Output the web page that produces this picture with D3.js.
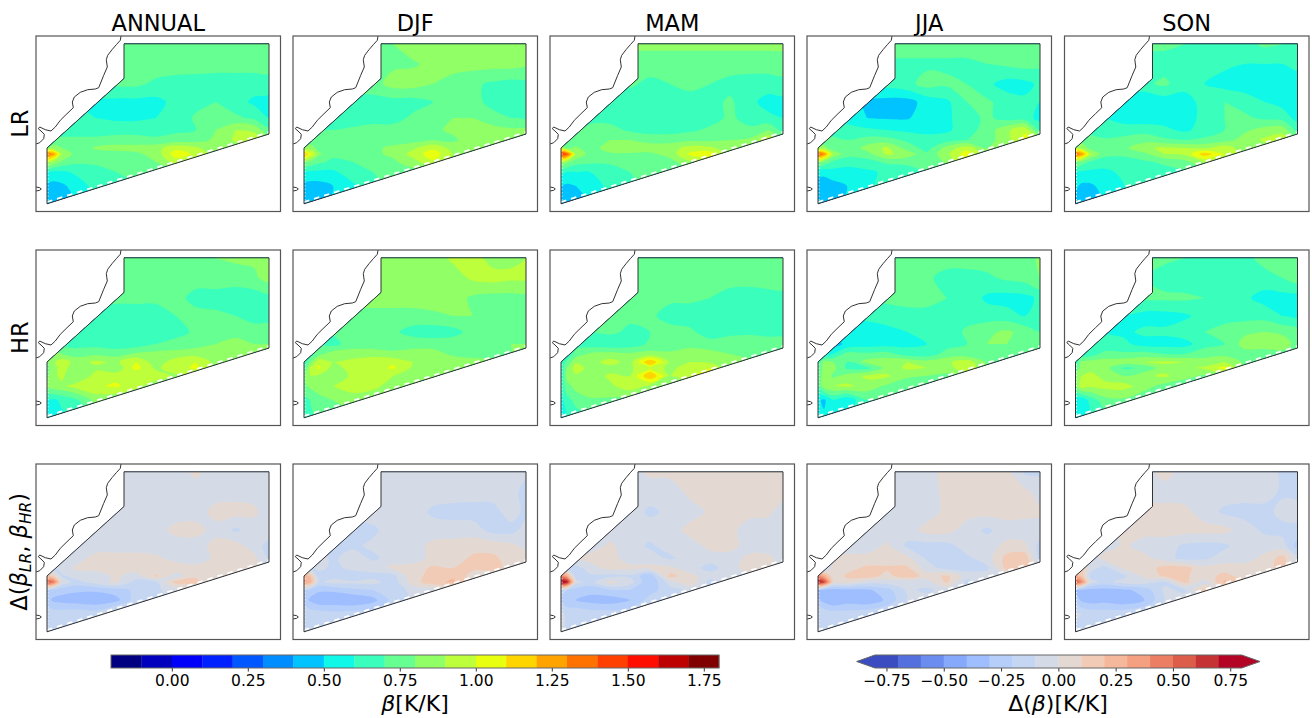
<!DOCTYPE html>
<html>
<head>
<meta charset="utf-8">
<script src="https://cdn.jsdelivr.net/npm/d3@7"></script>
<style>
  body { margin: 0; background: #fff; }
  text { font-family: "DejaVu Sans", sans-serif; fill: #000; }
</style>
</head>
<body>
<script>
// grid nodes in map units, denser round the hot spot near the west edge
var colNodes = [11, 17, 26, 40, 60, 80, 100, 120, 140, 160, 180, 200, 218, 233];
var rowNodes = [8, 28, 48, 66, 82, 94, 104, 112, 118, 126, 136, 150, 168];

var seasons = ["ANNUAL", "DJF", "MAM", "JJA", "SON"];
var rowNames = ["LR", "HR", "delta"];

// beta and delta beta, in hundredths of K/K
var lrAnnual = [
[75,75,75,75,75,75,75,75,75,75,75,75,75,75],
[75,75,75,75,75,75,75,75,75,75,74,74,74,74],
[72,72,72,72,72,72,72,68,66,65,65,65,65,66],
[62,62,62,60,58,57,57,57,63,68,70,64,58,56],
[64,64,64,64,60,58,58,60,66,71,72,72,68,60],
[66,66,66,66,66,66,66,66,68,70,80,90,88,72],
[70,74,72,72,72,74,74,72,74,76,82,92,96,84],
[78,84,80,72,82,84,84,86,97,92,82,84,90,84],
[135,128,90,76,74,76,78,84,106,98,84,84,84,84],
[92,88,78,72,72,74,76,80,94,86,80,80,80,80],
[60,58,58,62,66,70,72,74,74,74,74,74,74,74],
[47,46,48,54,64,68,70,72,72,72,72,72,72,72],
[42,42,44,50,60,66,70,72,72,72,72,72,72,72]];
var lrDjf = [
[78,78,78,78,78,78,80,84,85,85,85,85,85,85],
[76,76,76,76,76,76,78,79,82,84,84,84,84,82],
[74,74,74,74,74,76,84,84,80,76,72,68,66,66],
[66,66,66,66,66,66,66,66,70,76,74,66,64,64],
[66,66,66,64,64,66,66,72,76,80,80,74,70,68],
[68,68,70,70,72,74,74,76,78,82,86,84,82,82],
[72,74,72,70,72,74,76,76,80,78,86,88,90,90],
[80,85,76,72,76,78,82,88,98,86,82,88,94,94],
[120,105,82,72,74,78,82,94,106,90,84,84,84,84],
[82,78,72,68,70,74,78,86,98,86,80,80,80,80],
[58,58,58,58,66,70,72,76,78,78,78,78,78,78],
[46,46,46,50,58,68,72,74,74,74,74,74,74,74],
[42,42,44,52,60,68,72,74,74,74,74,74,74,74]];
var lrMam = [
[82,82,82,82,82,82,82,82,82,82,82,82,82,82],
[76,76,76,76,76,76,76,76,76,76,76,76,76,76],
[72,72,72,72,72,72,67,70,74,70,66,64,64,66],
[66,66,66,66,64,63,63,63,64,66,72,62,57,57],
[68,68,68,68,66,64,64,64,64,66,72,66,62,60],
[70,70,70,72,74,68,66,66,68,72,74,72,80,66],
[74,76,72,72,80,80,76,76,78,78,80,82,98,84],
[90,78,82,74,86,90,86,86,94,92,84,84,84,84],
[148,142,90,76,78,78,78,84,102,106,84,84,84,84],
[88,82,74,72,72,74,74,76,88,92,80,80,80,80],
[62,60,60,60,64,70,72,74,74,74,74,74,74,74],
[50,48,50,56,62,68,72,72,72,72,72,72,72,72],
[44,44,46,50,60,66,70,72,72,72,72,72,72,72]];
var lrJja = [
[75,75,75,75,75,75,75,75,75,75,75,74,73,72],
[68,68,68,68,68,68,68,68,68,68,70,72,74,72],
[64,64,64,64,64,64,67,74,72,70,62,56,57,62],
[56,56,56,56,48,46,46,54,58,70,72,65,62,60],
[60,60,60,58,50,49,49,55,58,66,72,66,64,57],
[66,66,66,62,62,60,58,57,58,66,74,88,98,66],
[72,74,72,70,74,74,68,64,66,70,76,86,104,90],
[82,84,74,72,84,92,76,66,84,96,80,80,80,80],
[140,130,88,74,76,92,86,72,88,106,80,80,80,80],
[84,78,68,64,66,72,72,70,82,98,76,76,76,76],
[52,52,56,56,58,62,66,70,70,70,70,70,70,70],
[46,46,46,50,58,64,68,68,68,68,68,68,68,68],
[44,44,46,52,60,66,68,68,68,68,68,68,68,68]];
var lrSon = [
[72,72,72,72,72,72,72,70,68,66,66,72,70,68],
[66,66,66,66,66,66,66,66,64,62,60,60,60,62],
[68,68,68,68,68,68,72,64,60,56,54,54,54,56],
[58,58,58,56,52,50,54,55,64,70,66,60,56,54],
[64,64,64,60,56,54,56,57,62,70,72,68,66,56],
[66,66,66,60,64,66,62,58,64,70,78,84,86,66],
[72,76,74,72,74,76,72,70,72,76,84,92,96,80],
[88,88,76,72,78,88,92,90,88,96,84,84,84,84],
[135,128,92,74,72,78,90,92,116,100,84,84,84,84],
[82,76,68,64,66,68,72,76,90,88,80,80,80,80],
[60,58,58,58,62,64,66,68,70,70,70,70,70,70],
[52,48,48,54,60,66,68,68,68,68,68,68,68,68],
[44,44,44,50,60,66,68,68,68,68,68,68,68,68]];

var hrAnnual = [
[75,75,75,75,75,75,75,75,75,75,80,82,82,84],
[75,75,75,75,75,75,75,75,75,75,75,75,78,84],
[72,72,72,72,72,72,72,72,74,66,66,64,64,66],
[72,72,72,72,68,66,66,66,70,74,72,70,65,65],
[66,66,66,66,66,65,65,66,66,72,76,76,76,76],
[66,66,66,66,66,64,64,70,74,76,80,84,80,80],
[72,84,80,76,78,76,82,84,84,86,86,84,84,84],
[78,88,96,86,92,88,100,84,96,100,86,86,86,86],
[76,86,94,84,88,82,104,88,96,102,86,86,86,86],
[78,88,92,80,94,96,90,96,88,84,84,84,84,84],
[82,86,88,94,98,102,94,82,80,80,80,80,80,80],
[60,58,62,68,84,80,76,76,76,76,76,76,76,76],
[56,56,58,62,72,72,72,72,72,72,72,72,72,72]];
var hrDjf = [
[85,85,85,85,85,85,85,85,85,92,94,86,88,90],
[85,85,85,85,85,85,85,85,85,85,92,94,92,92],
[85,85,85,85,85,85,85,85,85,85,78,76,76,76],
[76,76,76,76,76,76,76,76,78,80,80,74,74,74],
[72,72,72,72,74,74,72,66,64,66,74,74,74,74],
[72,72,70,66,76,76,76,76,76,76,76,78,80,80],
[70,64,76,86,84,84,82,84,84,78,78,78,80,84],
[64,78,98,90,94,100,98,90,86,86,82,82,82,82],
[66,92,102,86,94,94,102,88,86,90,82,82,82,82],
[78,90,88,84,92,96,90,86,84,84,82,82,82,82],
[78,82,86,90,98,94,84,80,80,80,80,80,80,80],
[66,70,76,80,82,80,78,78,78,78,78,78,78,78],
[66,68,72,76,78,78,78,78,78,78,78,78,78,78]];
var hrMam = [
[76,76,76,76,76,76,76,76,76,76,72,76,76,80],
[75,75,75,75,75,75,75,75,74,74,74,74,76,78],
[72,72,72,72,72,72,74,72,72,70,66,65,65,65],
[72,72,72,72,74,72,72,66,65,65,65,65,65,65],
[70,70,70,70,72,68,70,74,72,65,67,68,66,66],
[66,64,66,64,62,64,72,74,76,74,76,76,76,76],
[66,62,74,82,84,82,84,82,86,84,80,78,78,78],
[64,72,88,86,94,86,120,88,90,88,82,82,82,82],
[60,80,96,86,86,88,100,86,98,100,82,82,82,82],
[58,84,88,84,92,90,120,90,100,106,84,84,84,84],
[62,76,84,90,88,96,88,84,82,82,82,82,82,82],
[56,66,74,78,78,76,76,76,76,76,76,76,76,76],
[56,60,64,70,74,74,74,74,74,74,74,74,74,74]];
var hrJja = [
[75,75,75,75,75,75,75,75,75,75,75,74,75,82],
[75,75,75,75,75,75,75,72,66,66,68,72,74,80],
[72,72,72,72,72,72,74,74,70,66,58,56,57,62],
[62,62,62,62,62,66,66,66,68,66,65,64,60,60],
[58,58,58,56,56,56,60,60,64,72,78,82,76,70],
[60,54,46,52,55,56,58,60,66,70,80,80,78,76],
[56,50,60,74,72,74,64,64,74,72,76,76,76,76],
[64,84,80,70,84,86,90,84,88,96,78,78,78,78],
[70,84,84,68,66,84,92,90,84,100,78,78,78,78],
[70,88,78,84,92,92,82,80,78,78,78,78,78,78],
[70,86,90,92,86,78,72,70,70,70,70,70,70,70],
[52,48,60,52,70,70,70,70,70,70,70,70,70,70],
[50,52,54,60,64,66,66,66,66,66,66,66,66,66]];
var hrSon = [
[70,70,70,70,70,70,72,70,68,62,66,74,78,80],
[72,72,72,72,72,70,66,64,64,64,64,66,70,76],
[72,72,72,72,72,72,72,72,70,66,62,56,56,54],
[60,60,60,60,60,56,56,58,64,66,66,66,60,56],
[60,60,60,60,58,62,62,66,70,74,78,80,78,76],
[66,60,60,60,62,56,56,56,66,70,84,84,86,76],
[66,60,64,74,72,74,70,70,76,76,76,76,76,76],
[64,82,84,84,86,90,92,90,84,90,78,78,78,78],
[72,84,86,84,68,72,86,88,92,104,78,78,78,78],
[84,90,94,86,80,88,92,84,78,78,78,78,78,78],
[80,96,92,94,94,84,76,72,72,72,72,72,72,72],
[54,52,64,76,78,72,70,70,70,70,70,70,70,70],
[56,58,60,64,68,68,68,68,68,68,68,68,68,68]];

var dAnnual = [
[-5,-5,-5,-5,-5,-5,-5,-5,-5,2,-5,-5,-5,-5],
[-4,-4,-4,-4,-4,-4,-4,-4,-4,-4,-4,-4,-4,-4],
[-5,-5,-5,-5,-5,-5,-5,-5,-5,-4,3,4,2,-5],
[-5,-5,-5,-5,-5,-5,-5,-4,3,3,-3,-12,-5,-5],
[-5,-5,-5,-5,-5,-5,-5,-5,-5,-4,3,4,-5,-14],
[-5,-5,-5,-5,4,4,4,2,-4,-5,2,4,3,-12],
[-12,-14,-5,2,4,6,5,3,6,3,2,6,12,-8],
[14,12,-12,-5,-5,2,-5,12,-5,8,3,3,3,3],
[55,50,-2,-14,-5,2,-14,-12,14,14,-5,-5,-5,-5],
[-20,-24,-26,-28,-28,-24,-18,-12,-5,-8,-5,-5,-5,-5],
[-26,-32,-34,-36,-38,-34,-14,-12,-8,-8,-8,-8,-8,-8],
[-14,-14,-14,-12,-14,2,-8,-8,-8,-8,-8,-8,-8,-8],
[-12,-12,-12,-12,-10,-8,-8,-8,-8,-8,-8,-8,-8,-8]];
var dDjf = [
[-5,-5,-5,-5,-5,-5,-5,-5,-5,-5,-5,-5,-6,-8],
[-5,-5,-5,-5,-5,-5,-5,-5,-5,-5,-5,-5,-6,-14],
[-5,-5,-5,-5,-5,-5,-5,-5,-12,-14,-15,-14,-5,-13],
[-5,-5,-5,-5,-14,-12,-5,-5,-5,-5,-5,-14,-14,-6],
[-12,-12,-12,-12,-12,-8,-10,-5,3,4,6,6,3,-3],
[-6,-6,-6,-12,-5,-12,-6,-5,3,4,12,12,6,4],
[-5,-14,-5,-14,-6,-5,3,4,12,10,12,12,8,4],
[26,20,-18,-14,-20,-14,-14,8,12,18,6,6,6,6],
[32,28,-12,-6,-8,-6,-16,6,16,22,6,6,6,6],
[-18,-24,-28,-28,-22,-20,-14,-8,-5,-5,-5,-5,-5,-5],
[-24,-32,-38,-38,-40,-34,-16,-8,-6,-6,-6,-6,-6,-6],
[-14,-14,-14,-16,-14,-12,-8,-6,-6,-6,-6,-6,-6,-6],
[-14,-14,-14,-14,-12,-10,-8,-6,-6,-6,-6,-6,-6,-6]];
var dMam = [
[-5,-5,-5,-5,-5,-5,2,3,3,3,3,3,3,3],
[-5,-5,-5,-5,-5,-5,-5,-6,3,5,5,5,5,4],
[-5,-5,-5,-5,-5,-5,-12,-8,-5,2,4,3,2,-5],
[-5,-5,-5,-5,-5,-5,-5,-5,4,5,3,-5,-5,-5],
[-5,-5,-5,-5,2,-5,-12,-5,-5,3,4,-5,-6,-5],
[-5,-12,2,4,4,-5,-5,-12,-5,-5,-5,3,3,-5],
[-5,-16,-14,-5,4,3,3,2,-5,-14,-5,6,5,-5],
[40,30,-16,-12,-14,-12,-28,14,3,-5,-5,-5,-5,-5],
[78,72,-6,-14,4,-5,-30,-5,8,-14,-5,-5,-5,-5],
[-18,-20,-24,-26,-20,-20,-24,-14,-8,-8,-8,-8,-8,-8],
[-22,-26,-30,-34,-36,-30,-16,-8,-8,-8,-8,-8,-8,-8],
[-5,-14,-12,-14,-14,-12,-8,-8,-8,-8,-8,-8,-8,-8],
[-10,-10,-10,-10,-10,-8,-8,-8,-8,-8,-8,-8,-8,-8]];
var dJja = [
[-5,-5,-5,-5,-5,-5,-5,-5,4,3,3,3,-12,-12],
[-5,-5,-5,-5,-5,-5,-5,-5,3,5,4,4,3,-5],
[-5,-5,-5,-5,-5,-5,-5,-5,3,4,4,4,3,2],
[-5,-5,-5,-5,-5,-5,-5,4,4,-5,-12,-5,-5,-5],
[-5,-5,-5,-5,-5,2,-12,-14,-14,-5,-5,3,2,-14],
[-5,-5,2,3,3,3,3,-12,-12,-12,-5,14,16,-14],
[-5,-14,3,6,12,12,12,-5,-14,-14,-12,14,18,-8],
[38,30,3,12,16,6,18,5,12,-5,-5,-5,-5,-5],
[74,62,8,6,-5,-5,-8,-5,12,-14,-5,-5,-5,-5],
[-30,-34,-36,-34,-32,-24,-8,-12,-6,-6,-6,-6,-6,-6],
[-28,-34,-40,-36,-38,-28,-10,-6,-6,-6,-6,-6,-6,-6],
[-12,-12,-14,-14,-12,-8,-6,-6,-6,-6,-6,-6,-6,-6],
[-14,-14,-14,-14,-10,-8,-5,-5,-5,-5,-5,-5,-5,-5]];
var dSon = [
[-5,-5,-5,-5,-5,-5,4,-5,-5,-5,-5,-5,-12,-14],
[-5,-5,-5,-5,-5,-5,-5,-5,-5,-5,-5,-5,-12,-14],
[-5,-5,-5,-5,-5,3,4,3,-5,-12,-14,-14,-6,-5],
[-5,-5,-5,-5,3,4,4,4,4,3,-5,-12,-14,-14],
[-5,-5,-5,-5,2,-5,-5,-12,-14,-12,-5,-5,-5,-25],
[-5,-5,-5,4,4,3,-5,-14,-12,-5,-5,3,14,-6],
[-5,14,-5,-14,3,4,14,14,3,5,5,5,14,-6],
[28,18,-14,-14,-12,3,12,12,4,14,5,5,5,5],
[56,42,-5,-14,-5,-5,-12,14,-5,22,16,5,5,5],
[-30,-32,-34,-34,-32,-26,-8,-12,14,-5,-5,-5,-5,-5],
[-24,-32,-36,-34,-38,-30,-10,-6,-6,-6,-6,-6,-6,-6],
[-8,-10,-12,-14,-12,-8,-6,-6,-6,-6,-6,-6,-6,-6],
[-14,-14,-14,-14,-10,-8,-6,-6,-6,-6,-6,-6,-6,-6]];

var panelData = [
	[lrAnnual, lrDjf, lrMam, lrJja, lrSon],
	[hrAnnual, hrDjf, hrMam, hrJja, hrSon],
	[dAnnual, dDjf, dMam, dJja, dSon]
];

// map outlines in map units
var regionOutline = [[88, 7.8], [233, 7.8], [233, 98], [11, 167.8], [11, 112], [88, 42.5]];
var southEdge = [[11, 166], [233, 96.2]];
var westEdge = [[12, 114], [12, 165]];
var coastline = [[85,0],[84.3,4.3],[80.3,8.7],[76,13.7],[71.7,19.3],[70.3,23.7],[71.3,31],[67.7,39.3],[65,46],[62.7,51.7],[59.3,53],[51.7,53.7],[44.3,56.3],[38.3,61],[36.3,66],[37.3,71.7],[31,77.7],[24.3,84.3],[19.3,91],[15,95],[9.3,93.7],[3.7,91],[2.3,92.7],[5,95],[8.3,98.3],[7.7,102.7],[3.7,106.7],[0,108]];
var island = [[0,151],[3.7,151.7],[5.3,153],[3.7,154.3],[0,155]];

var betaLevels = d3.range(-20, 180, 10);
var betaColors = ["#000080","#0000bd","#0000fa","#0021ff","#0057ff","#008dff","#00c3ff","#0ff8e8","#3affbc","#66ff91","#91ff66","#bcff3a","#e8ff0f","#ffd500","#ffa300","#ff7200","#ff4000","#fe0e00","#bd0000","#800000"];
var deltaLevels = d3.range(-80, 80, 10);
var deltaColors = ["#3b4cc0","#5470de","#6b8df0","#86a9fc","#9ebeff","#b6cefa","#c5d6f2","#d4dbe6","#e4d9d2","#f2cbb7","#f6b89c","#f5a081","#ec7f63","#dc5d4a","#c53334","#b40426"];

var panelX = [36, 293, 550, 807, 1064.5];
var panelY = [36, 250, 464];
var panelW = 244.5, panelH = 175.5;

var svg = d3.select("body").append("svg").attr("width", 1312).attr("height", 718);

svg.append("defs").append("clipPath").attr("id", "region")
	.append("path").attr("d", "M" + regionOutline.join("L") + "Z");

// map units -> panel pixels
var x = d3.scaleLinear().domain([0, 244.5]).range([0, panelW]);
var y = d3.scaleLinear().domain([0, 175.5]).range([0, panelH]);
var mapLine = d3.line().x(function(d){ return x(d[0]); }).y(function(d){ return y(d[1]); });

// grid index -> map units; scale extrapolates the half cell past the last node
var colScale = d3.scaleLinear().domain(d3.range(colNodes.length)).range(colNodes);
var rowScale = d3.scaleLinear().domain(d3.range(rowNodes.length)).range(rowNodes);

var ringLine = d3.line()
	.x(function(d){ return x(colScale(d[0] - 0.5)); })
	.y(function(d){ return y(rowScale(d[1] - 0.5)); })
	.curve(d3.curveCatmullRomClosed.alpha(0.5));

function drawPanel(g, grid, levels, colors){
	var contours = d3.contours()
		.size([colNodes.length, rowNodes.length])
		.thresholds(levels)
		(d3.merge(grid));

	g.append("g").attr("clip-path", "url(#region)")
		.selectAll("path").data(contours).enter().append("path")
		.attr("fill", function(d, i){ return colors[i]; })
		.attr("fill-rule", "evenodd")
		.attr("d", function(d){
			return d.coordinates.map(function(poly){
				return poly.map(function(ring){ return ringLine(ring.slice(0, -1)); }).join("");
			}).join("");
		});

	// the raster leaves little white steps along the south and west edges
	g.append("path").attr("d", mapLine(southEdge))
		.attr("stroke", "#fff").attr("stroke-width", 1.8).attr("stroke-dasharray", "5.5 5").attr("fill", "none");
	g.append("path").attr("d", mapLine(westEdge))
		.attr("stroke", "#fff").attr("stroke-width", 0.8).attr("stroke-dasharray", "1.5 2").attr("fill", "none");
	g.append("path").attr("d", "M" + regionOutline.map(function(p){ return [x(p[0]), y(p[1])]; }).join("L") + "Z")
		.attr("fill", "none").attr("stroke", "#333").attr("stroke-width", 1);
	g.append("path").attr("d", mapLine(coastline)).attr("fill", "none").attr("stroke", "#333").attr("stroke-width", 1);
	g.append("path").attr("d", mapLine(island)).attr("fill", "none").attr("stroke", "#333").attr("stroke-width", 1);
	g.append("rect").attr("width", panelW).attr("height", panelH)
		.attr("fill", "none").attr("stroke", "#555").attr("stroke-width", 1.2);
}

panelData.forEach(function(row, r){
	row.forEach(function(grid, c){
		var g = svg.append("g").attr("transform", "translate(" + panelX[c] + "," + panelY[r] + ")");
		if (r < 2) drawPanel(g, grid, betaLevels, betaColors);
		else drawPanel(g, grid, deltaLevels, deltaColors);
	});
});

seasons.forEach(function(s, c){
	svg.append("text").attr("x", panelX[c] + panelW / 2).attr("y", 31)
		.attr("text-anchor", "middle").attr("font-size", 22.5).text(s);
});

function rowLabel(r, baseline){
	return svg.append("text")
		.attr("transform", "translate(" + baseline + "," + (panelY[r] + panelH / 2) + ") rotate(-90)")
		.attr("text-anchor", "middle").attr("font-size", 22.5);
}
rowLabel(0, 28).text("LR");
rowLabel(1, 28).text("HR");
var dl = rowLabel(2, 27);
dl.append("tspan").text("Δ(");
dl.append("tspan").attr("font-style", "italic").text("β");
dl.append("tspan").attr("font-style", "italic").attr("font-size", 15.5).attr("dy", 4).text("LR");
dl.append("tspan").attr("dy", -4).text(", ");
dl.append("tspan").attr("font-style", "italic").text("β");
dl.append("tspan").attr("font-style", "italic").attr("font-size", 15.5).attr("dy", 4).text("HR");
dl.append("tspan").attr("dy", -4).text(")");

// colour bars
var barTop = 655, barH = 13;

function drawBar(scale, levels, colors, step, ticks){
	var g = svg.append("g");
	g.selectAll("rect").data(levels).enter().append("rect")
		.attr("x", function(d){ return scale(d / 100); })
		.attr("y", barTop)
		.attr("width", function(d){ return scale((d + step) / 100) - scale(d / 100) + 0.3; })
		.attr("height", barH)
		.attr("fill", function(d, i){ return colors[i]; });
	var axis = g.append("g").attr("transform", "translate(0," + (barTop + barH) + ")")
		.call(d3.axisBottom(scale).tickValues(ticks).tickFormat(d3.format(".2f")).tickSize(3.5).tickPadding(3));
	axis.select(".domain").remove();
	axis.selectAll("text").attr("font-size", 15.5).style("font-family", '"DejaVu Sans", sans-serif');
	axis.selectAll("line").attr("stroke", "#333");
	return g;
}

var betaTicks = [0, 0.25, 0.5, 0.75, 1, 1.25, 1.5, 1.75];
var betaScale = d3.scaleLinear().domain([-0.2, 1.8]).range([111, 719]);
drawBar(betaScale, betaLevels, betaColors, 10, betaTicks);
svg.append("rect").attr("x", 111).attr("y", barTop).attr("width", 608).attr("height", barH)
	.attr("fill", "none").attr("stroke", "#666").attr("stroke-width", 1);

var deltaTicks = [-0.75, -0.5, -0.25, 0, 0.25, 0.5, 0.75];
var deltaScale = d3.scaleLinear().domain([-0.8, 0.8]).range([875, 1241.7]);
drawBar(deltaScale, deltaLevels, deltaColors, 10, deltaTicks);
var tipL = deltaScale(-0.88), tipR = deltaScale(0.88);
svg.append("path")
	.attr("d", "M" + [deltaScale(-0.8), barTop] + "L" + [tipL, barTop + barH / 2] + "L" + [deltaScale(-0.8), barTop + barH] + "Z")
	.attr("fill", deltaColors[0]);
svg.append("path")
	.attr("d", "M" + [deltaScale(0.8), barTop] + "L" + [tipR, barTop + barH / 2] + "L" + [deltaScale(0.8), barTop + barH] + "Z")
	.attr("fill", deltaColors[15]);
svg.append("path")
	.attr("d", "M" + [deltaScale(-0.8), barTop] + "L" + [deltaScale(0.8), barTop] + "L" + [tipR, barTop + barH / 2] + "L" + [deltaScale(0.8), barTop + barH] + "L" + [deltaScale(-0.8), barTop + barH] + "L" + [tipL, barTop + barH / 2] + "Z")
	.attr("fill", "none").attr("stroke", "#666").attr("stroke-width", 1);

var lab1 = svg.append("text").attr("x", 415).attr("y", 711).attr("text-anchor", "middle").attr("font-size", 22);
lab1.append("tspan").attr("font-style", "italic").text("β");
lab1.append("tspan").text("[K/K]");
var lab2 = svg.append("text").attr("x", 1058).attr("y", 711).attr("text-anchor", "middle").attr("font-size", 22);
lab2.append("tspan").text("Δ(");
lab2.append("tspan").attr("font-style", "italic").text("β");
lab2.append("tspan").text(")[K/K]");
</script>
</body>
</html>
